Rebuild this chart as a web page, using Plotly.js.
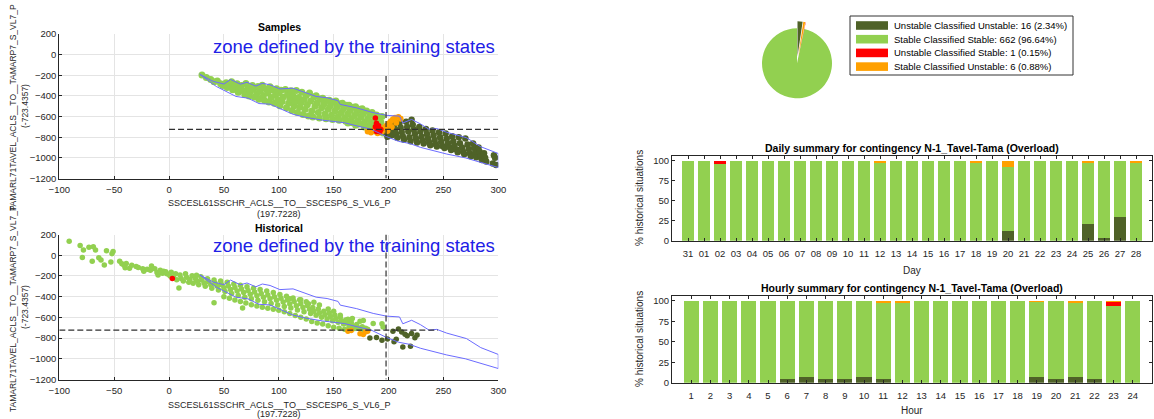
<!DOCTYPE html>
<html>
<head>
<meta charset="utf-8">
<script src="https://cdn.plot.ly/plotly-3.0.1.min.js"></script>
<style>html,body{margin:0;padding:0;background:#fff;}#chart{width:1154px;height:419px;}</style>
</head>
<body>
<div id="chart"></div>
<script>
// ---------------- DATA ----------------
const classNames = ['Unstable Classified Unstable', 'Stable Classified Stable', 'Unstable Classified Stable', 'Stable Classified Unstable'];
const pieCounts = [16, 662, 1, 6];

const thrX = 197.7228;
const thrY = -723.4357;
const xVarName = 'SSCESL61SSCHR_ACLS__TO__SSCESP6_S_VL6_P';
const yVarName = 'TAMARL71TAVEL_ACLS__TO__TAMARP7_S_VL7_P';

// zone defined by the training states (closed polygon)
const zoneX = [28, 40, 50, 56, 65, 71, 79, 85, 92, 101, 113, 124, 134, 144, 154, 156, 171, 186, 198, 210, 213, 221, 229, 237, 244, 253, 271, 284, 296, 300, 300, 285, 270, 253, 229, 219, 209, 198, 184, 171, 160, 140, 124, 113, 101, 92, 82, 72, 61, 43, 28];
const zoneY = [-190, -258, -285, -240, -286, -268, -305, -278, -292, -332, -325, -368, -405, -418, -446, -482, -516, -562, -588, -596, -662, -628, -670, -724, -716, -752, -805, -892, -945, -958, -1094, -1047, -1000, -963, -898, -860, -840, -793, -722, -690, -660, -635, -606, -578, -522, -480, -474, -422, -405, -308, -190];

// threshold guide segments
const topHLineX = [0, 300];
const topVLineY = [-206, -1200];
const botHLineX = [-100, 245];
const botVLineY = [200, -1200];

// Samples (top plot)
const sampStable = [[30,-198],[34,-222],[38,-240],[41,-262],[44,-255],[47,-283],[49,-300],[52,-272],[53,-318],[55,-292],[57,-262],[58,-340],[60,-305],[62,-282],[63,-365],[64,-330],[66,-300],[68,-352],[69,-385],[70,-280],[72,-318],[73,-400],[74,-360],[76,-300],[77,-335],[78,-410],[80,-378],[81,-308],[82,-432],[83,-350],[85,-296],[86,-395],[87,-445],[88,-330],[90,-372],[91,-458],[92,-310],[93,-415],[95,-345],[96,-470],[97,-390],[98,-330],[99,-438],[100,-372],[101,-495],[102,-345],[103,-455],[104,-410],[106,-338],[107,-515],[108,-385],[109,-470],[110,-430],[111,-350],[112,-540],[113,-400],[114,-495],[115,-455],[116,-348],[117,-560],[118,-415],[119,-510],[120,-470],[121,-365],[122,-580],[123,-435],[124,-530],[125,-395],[126,-485],[127,-595],[128,-372],[129,-450],[130,-545],[131,-605],[132,-410],[133,-500],[134,-398],[135,-465],[136,-560],[137,-615],[138,-430],[139,-515],[140,-422],[141,-478],[142,-575],[143,-622],[144,-445],[145,-530],[146,-442],[147,-495],[148,-588],[149,-628],[150,-460],[151,-545],[152,-448],[153,-510],[154,-600],[155,-635],[156,-475],[157,-560],[158,-472],[159,-525],[160,-612],[161,-645],[162,-490],[163,-575],[164,-490],[165,-540],[166,-625],[167,-660],[168,-510],[169,-590],[170,-505],[171,-555],[172,-640],[173,-672],[174,-530],[175,-605],[176,-525],[177,-570],[178,-655],[179,-690],[180,-545],[181,-620],[182,-705],[183,-590],[184,-670],[185,-560],[186,-715],[187,-640],[188,-740],[189,-585],[190,-680],[191,-610],[192,-720],[193,-655],[194,-600],[195,-760],[178,-700],[170,-685],[163,-662]];
const sampUnstable = [[197,-728],[198,-765],[199,-795],[201,-700],[202,-745],[203,-782],[205,-680],[206,-725],[207,-768],[208,-805],[210,-660],[211,-705],[212,-750],[213,-790],[214,-825],[216,-650],[217,-700],[218,-745],[219,-800],[220,-838],[221,-632],[222,-680],[223,-725],[224,-770],[225,-815],[226,-850],[228,-700],[229,-745],[230,-795],[231,-835],[232,-862],[234,-720],[235,-768],[236,-812],[237,-850],[238,-878],[240,-735],[241,-780],[242,-828],[243,-868],[244,-890],[246,-752],[247,-800],[248,-845],[249,-885],[251,-905],[252,-765],[253,-815],[254,-862],[256,-900],[257,-925],[258,-790],[259,-840],[260,-880],[262,-920],[263,-945],[264,-800],[265,-858],[267,-900],[268,-940],[269,-965],[270,-812],[272,-870],[273,-915],[274,-955],[275,-985],[277,-860],[278,-905],[279,-950],[280,-995],[282,-900],[283,-940],[284,-985],[285,-1020],[287,-955],[288,-1000],[289,-1035],[296,-975],[297,-1000],[298,-1070],[295,-1055]];
const sampStableAsUnstable = [[181,-745],[184,-755],[187,-728],[190,-762],[194,-745],[196,-705],[198,-690],[200,-668],[202,-645],[204,-625],[206,-612],[209,-605],[207,-660],[203,-700],[211,-620],[199,-740]];
const sampUnstableAsStable = [[188,-615],[189,-665],[190,-712],[188,-698],[192,-748],[189,-745],[191,-690],[193,-725]];

// Historical (bottom plot)
const histStable = [[-91,135],[-81,95],[-78,50],[-79,-22],[-73,78],[-69,82],[-67,50],[-70,-58],[-64,-25],[-62,-45],[-59,-95],[-57,42],[-51,35],[-52,15],[-53,-65],[-45,-58],[-43,-82],[-41,-97],[-39,-80],[-40,-120],[-34,-97],[-36,-125],[-30,-110],[-28,-118],[-24,-130],[-23,-155],[-20,-136],[-16,-104],[-17,-146],[-13,-130],[-11,-168],[-10,-192],[-8,-146],[-5,-155],[-6,-175],[-2,-178],[1,-200],[9,-317],[25,-194],[41,-458],[67,-510],
[-3,-160],[0,-185],[2,-165],[4,-210],[6,-178],[7,-238],[10,-192],[11,-225],[13,-250],[15,-178],[16,-212],[18,-262],[19,-235],[21,-198],[22,-270],[24,-225],[26,-252],[27,-285],[29,-208],[30,-240],[32,-270],[33,-300],[35,-228],[36,-255],[38,-285],[39,-318],[41,-240],[42,-270],[44,-300],[45,-335],[47,-250],[48,-285],[50,-315],[51,-350],[53,-262],[54,-298],[56,-330],[57,-370],[59,-278],[60,-312],[62,-345],[63,-390],[65,-290],[66,-325],[68,-360],[69,-405],[71,-305],[72,-340],[74,-378],[75,-420],[77,-318],[78,-355],[80,-392],[81,-435],[83,-332],[84,-370],[86,-405],[87,-450],[89,-345],[90,-385],[92,-420],[93,-465],[95,-360],[96,-400],[98,-435],[99,-480],[101,-380],[102,-415],[104,-452],[105,-495],[107,-395],[108,-432],[110,-470],[111,-510],[113,-412],[114,-448],[116,-488],[117,-528],[119,-430],[120,-468],[122,-505],[123,-545],[125,-450],[126,-485],[128,-522],[129,-562],[131,-505],[132,-540],[134,-580],[136,-520],[137,-558],[139,-598],[141,-540],[142,-575],[144,-615],[146,-558],[147,-592],[149,-632],[151,-578],[152,-612],[154,-648],[156,-600],[157,-632],[159,-665],[161,-625],[162,-655],[164,-690],[166,-648],[167,-680],[169,-708],[171,-670],[172,-700],[174,-712],[176,-690],[177,-718],[179,-705],[181,-715],
[127,-468],[132,-455],[137,-480],[156,-580],[163,-619],[167,-612],[174,-638],[177,-630],[186,-660],[194,-661],[195,-693],[145,-520],[150,-540],[120,-430],[110,-420],
[50,-400],[55,-415],[60,-432],[65,-447],[70,-462],[75,-478],[80,-490],[85,-502],[90,-512],[95,-522],[100,-532],[105,-546],[110,-562],[115,-582],[120,-600],[125,-615],[130,-640],[135,-655],[140,-665],[145,-680],[150,-695],[155,-705],[160,-715],[165,-720]];
const histUnstable = [[183,-800],[189,-795],[194,-820],[199,-808],[204,-735],[205,-835],[207,-812],[209,-712],[212,-742],[213,-885],[217,-778],[221,-755],[220,-878],[224,-798],[215,-762],[226,-770]];
const histStableAsUnstable = [[163,-735],[166,-728],[174,-758],[177,-765],[179,-742],[181,-735]];
const histUnstableAsStable = [[3,-225]];

// Daily summary (% of historical situations)
const days = ['31','01','02','03','04','05','06','07','08','09','10','11','12','13','14','15','16','17','18','19','20','21','22','23','24','25','26','27','28'];
const dailyUU = [0,0,0,0,0,0,0,0,0,0,0,0,0,0,0,0,0,0,0,0,12,0,0,0,0,21,4,29.5,0];
const dailySS = [100,100,96.5,100,100,100,100,100,100,100,100,100,97,100,100,100,100,100,97,100,80.5,100,100,100,100,75.7,96,70.5,96.7];
const dailyUS = [0,0,3.5,0,0,0,0,0,0,0,0,0,0,0,0,0,0,0,0,0,0,0,0,0,0,0,0,0,0];
const dailySU = [0,0,0,0,0,0,0,0,0,0,0,0,3,0,0,0,0,0,3,0,7.5,0,0,0,0,3.3,0,0,3.3];

// Hourly summary
const hours = [1,2,3,4,5,6,7,8,9,10,11,12,13,14,15,16,17,18,19,20,21,22,23,24];
const hourUU = [0,0,0,0,0,4,7,4,4,7,4,0,0,0,0,0,0,0,7,4,7,4,0,0];
const hourSS = [100,100,100,100,100,96,93,96,96,93,93.5,97.5,100,100,100,100,100,100,91,96,90.5,96,93.5,100];
const hourUS = [0,0,0,0,0,0,0,0,0,0,0,0,0,0,0,0,0,0,0,0,0,0,4.5,0];
const hourSU = [0,0,0,0,0,0,0,0,0,0,2.5,2.5,0,0,0,0,0,0,2,0,2.5,0,2,0];

const scatterTicksX = [-100,-50,0,50,100,150,200,250,300];
const scatterTicksY = [-1200,-1000,-800,-600,-400,-200,0,200];
const pctTicks = [0,25,50,75,100];

// ---------------- STYLE / LAYOUT ----------------
const W = 1154, H = 419;
const px = v => v / W;
const py = v => 1 - v / H;
const FONT = 'Liberation Sans, Arial, Helvetica, sans-serif';
const colDark = '#4f6228', colGreen = '#92d050', colRed = '#ff0000', colOrange = '#ffa000';
const classColors = [colDark, colGreen, colRed, colOrange];
const axCol = '#262626';
const zoneCol = '#6b6bff';
const dashCol = '#303030';

function pts(arr, color, xa, ya, size) {
  return {type:'scatter', mode:'markers', x: arr.map(p=>p[0]), y: arr.map(p=>p[1]),
    xaxis: xa, yaxis: ya, marker:{color: color, size: size || 6, line:{width:0}}, showlegend:false, hoverinfo:'skip'};
}
function line(x, y, xa, ya, color, width, dash) {
  return {type:'scatter', mode:'lines', x:x, y:y, xaxis:xa, yaxis:ya,
    line:{color:color, width:width, dash:dash||'solid'}, showlegend:false, hoverinfo:'skip'};
}

const traces = [];
// Top: samples
traces.push(pts(sampStable, colGreen, 'x', 'y', 7));
traces.push(pts(sampUnstable, colDark, 'x', 'y', 6.5));
traces.push(pts(sampStableAsUnstable, colOrange, 'x', 'y', 6));
traces.push(pts(sampUnstableAsStable, colRed, 'x', 'y', 5.5));
traces.push(line(zoneX, zoneY, 'x', 'y', zoneCol, 1));
traces.push(line(topHLineX, [thrY, thrY], 'x', 'y', dashCol, 1.2, '6px,3px'));
traces.push(line([thrX, thrX], topVLineY, 'x', 'y', dashCol, 1.2, '6px,3px'));
// Bottom: historical
traces.push(pts(histStable, colGreen, 'x2', 'y2', 5.5));
traces.push(pts(histUnstable, colDark, 'x2', 'y2', 5.5));
traces.push(pts(histStableAsUnstable, colOrange, 'x2', 'y2', 5.5));
traces.push(pts(histUnstableAsStable, colRed, 'x2', 'y2', 5.5));
traces.push(line(zoneX, zoneY, 'x2', 'y2', zoneCol, 1));
traces.push(line(botHLineX, [thrY, thrY], 'x2', 'y2', dashCol, 1.2, '6px,3px'));
traces.push(line([thrX, thrX], botVLineY, 'x2', 'y2', dashCol, 1.2, '6px,3px'));

// Pie
traces.push({type:'pie', values: pieCounts, labels: classNames, sort:false, direction:'counterclockwise',
  rotation:0, pull:[0.2,0,0.2,0.2], textinfo:'none', hoverinfo:'skip', showlegend:false,
  marker:{colors: classColors, line:{width:0}},
  domain:{x:[px(755), px(839)], y:[py(105.3), py(21.3)]}});

// Bars
function bar(x, y, color, xa, ya, w) {
  return {type:'bar', x:x, y:y, xaxis:xa, yaxis:ya, width:w, marker:{color:color, line:{width:0}}, showlegend:false, hoverinfo:'skip'};
}
traces.push(bar(days, dailyUU, colDark, 'x3', 'y3', 0.77));
traces.push(bar(days, dailySS, colGreen, 'x3', 'y3', 0.77));
traces.push(bar(days, dailyUS, colRed, 'x3', 'y3', 0.77));
traces.push(bar(days, dailySU, colOrange, 'x3', 'y3', 0.77));
traces.push(bar(hours, hourUU, colDark, 'x4', 'y4', 0.8));
traces.push(bar(hours, hourSS, colGreen, 'x4', 'y4', 0.8));
traces.push(bar(hours, hourUS, colRed, 'x4', 'y4', 0.8));
traces.push(bar(hours, hourSU, colOrange, 'x4', 'y4', 0.8));

const tickFont = {family: FONT, size: 9.5, color: axCol};
const scatX = {range:[-100,300], tickvals: scatterTicksX, showgrid:true, gridcolor:'#e4e4e4', zeroline:false,
  showline:true, linecolor:axCol, linewidth:1, ticks:'inside', ticklen:3, tickcolor:axCol, tickfont:tickFont,
  ticklabelstandoff:2, fixedrange:true};
const scatY = {range:[-1200,200], tickvals: scatterTicksY, showgrid:true, gridcolor:'#e4e4e4', zeroline:false,
  showline:true, linecolor:axCol, linewidth:1, ticks:'inside', ticklen:3, tickcolor:axCol, tickfont:tickFont, fixedrange:true};
const barX = {showgrid:false, zeroline:false, showline:true, mirror:'ticks', linecolor:axCol, linewidth:1,
  ticks:'inside', ticklen:3, tickcolor:axCol, tickfont:tickFont, ticklabelstandoff:4, fixedrange:true};
const barY = {range:[0,106.25], tickvals: pctTicks, showgrid:false, zeroline:false, showline:true, mirror:'ticks',
  linecolor:axCol, linewidth:1, ticks:'inside', ticklen:3, tickcolor:axCol, tickfont:tickFont, fixedrange:true};

const layout = {
  width: W, height: H, margin:{l:0,r:0,t:0,b:0}, paper_bgcolor:'#fff', plot_bgcolor:'#fff',
  font:{family: FONT, color: axCol}, showlegend:false, barmode:'stack', bargap:0.2,
  xaxis: Object.assign({}, scatX, {domain:[px(59.3), px(498.3)], anchor:'y'}),
  yaxis: Object.assign({}, scatY, {domain:[py(178.5), py(34)], anchor:'x'}),
  xaxis2: Object.assign({}, scatX, {domain:[px(59.3), px(498.3)], anchor:'y2'}),
  yaxis2: Object.assign({}, scatY, {domain:[py(379.5), py(234.5)], anchor:'x2'}),
  xaxis3: Object.assign({}, barX, {domain:[px(672), px(1152)], anchor:'y3', type:'category', range:[-1, 29]}),
  yaxis3: Object.assign({}, barY, {domain:[py(240.7), py(155.7)], anchor:'x3'}),
  xaxis4: Object.assign({}, barX, {domain:[px(672), px(1152)], anchor:'y4', range:[0, 25], tickvals: hours}),
  yaxis4: Object.assign({}, barY, {domain:[py(382.7), py(295.7)], anchor:'x4'}),
  annotations: [], shapes: []
};

function ann(text, x, y, size, opts) {
  layout.annotations.push(Object.assign({text:text, xref:'paper', yref:'paper', x:px(x), y:py(y),
    xanchor:'center', yanchor:'middle', showarrow:false, font:{family:FONT, size:size, color:axCol}}, opts||{}));
}
// scatter titles / labels
ann('<b>Samples</b>', 279, 27, 10.5, {font:{family:FONT, size:10.5, color:'#000'}});
ann('<b>Historical</b>', 279, 228, 10.5, {font:{family:FONT, size:10.5, color:'#000'}});
ann('zone defined by the training states', 353.5, 46.5, 18.5, {font:{family:FONT, size:18.5, color:'#2020e6'}});
ann('zone defined by the training states', 353.5, 245, 18.5, {font:{family:FONT, size:18.5, color:'#2020e6'}});
ann(yVarName, 13, 108, 8.5, {textangle:-90});
ann('(' + thrY + ')', 25, 106, 8.5, {textangle:-90});
ann(yVarName, 13, 309, 8.5, {textangle:-90});
ann('(' + thrY + ')', 25, 307, 8.5, {textangle:-90});
ann(xVarName, 279, 202.5, 9);
ann('(' + thrX + ')', 279, 214, 9);
ann(xVarName, 279, 404.5, 9);
ann('(' + thrX + ')', 279, 414, 9);
// bar titles / labels
ann('<b>Daily summary for contingency N-1_Tavel-Tama (Overload)</b>', 912, 148, 10.5, {font:{family:FONT, size:10.5, color:'#000'}});
ann('Day', 912, 270, 10);
ann('% historical situations', 639, 198, 10, {textangle:-90});
ann('<b>Hourly summary for contingency N-1_Tavel-Tama (Overload)</b>', 912, 288, 10.5, {font:{family:FONT, size:10.5, color:'#000'}});
ann('Hour', 912, 410, 10);
ann('% historical situations', 639, 339, 10, {textangle:-90});

// pie legend (drawn box)
const total = pieCounts.reduce((a,b)=>a+b, 0);
layout.shapes.push({type:'rect', xref:'paper', yref:'paper', x0:px(850), x1:px(1073), y0:py(75), y1:py(16),
  line:{color:'#333', width:1}, fillcolor:'#fff'});
const rowY = [25.5, 39.2, 52.9, 66.6];
classNames.forEach((name, i) => {
  layout.shapes.push({type:'rect', xref:'paper', yref:'paper', x0:px(856), x1:px(888),
    y0:py(rowY[i]+4.3), y1:py(rowY[i]-4.3), line:{width:0}, fillcolor: classColors[i]});
  const pct = (100 * pieCounts[i] / total).toFixed(2);
  ann(name + ': ' + pieCounts[i] + ' (' + pct + '%)', 892, rowY[i], 9.5, {xanchor:'left', font:{family:FONT, size:9.5, color:'#000'}});
});

Plotly.newPlot('chart', traces, layout, {displayModeBar:false, staticPlot:true});
</script>
</body>
</html>
